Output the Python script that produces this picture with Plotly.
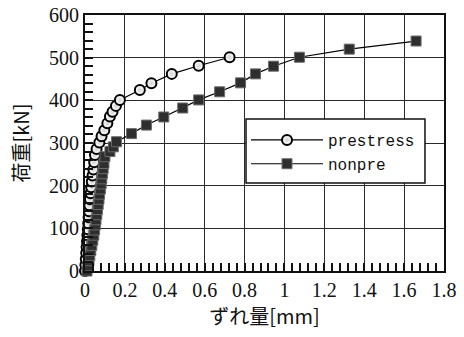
import plotly.graph_objects as go

# Load–slip measurements (slip in mm, load in kN)
prestress_slip = [0.000, 0.002, 0.004, 0.006, 0.008, 0.010, 0.012, 0.014, 0.016, 0.018,
                  0.020, 0.022, 0.025, 0.028, 0.031, 0.034, 0.038, 0.042, 0.046, 0.050,
                  0.058, 0.072, 0.083, 0.097, 0.112, 0.125, 0.138, 0.155, 0.175, 0.275,
                  0.333, 0.435, 0.570, 0.725]
prestress_load = [0, 14, 28, 42, 56, 70, 84, 98, 112, 126,
                  140, 154, 168, 182, 196, 210, 224, 238, 255, 272,
                  286, 301, 316, 330, 346, 362, 373, 387, 401, 424,
                  440, 462, 481, 501]

nonpre_slip = [0.010, 0.015, 0.020, 0.024, 0.029, 0.034, 0.039, 0.044, 0.048, 0.052,
               0.055, 0.059, 0.062, 0.066, 0.070, 0.073, 0.077, 0.081, 0.084, 0.087,
               0.091, 0.095, 0.100, 0.125, 0.142, 0.158, 0.233, 0.308, 0.395, 0.490,
               0.570, 0.675, 0.780, 0.855, 0.945, 1.075, 1.325, 1.660]
nonpre_load = [0, 12, 24, 36, 48, 60, 72, 84, 96, 108,
               120, 132, 144, 156, 168, 180, 192, 204, 216, 228,
               240, 252, 268, 280, 291, 303, 322, 342, 361, 382,
               401, 420, 441, 462, 480, 501, 520, 539]

x_ticks = [0, 0.2, 0.4, 0.6, 0.8, 1.0, 1.2, 1.4, 1.6, 1.8]
x_tick_text = ["0", "0.2", "0.4", "0.6", "0.8", "1", "1.2", "1.4", "1.6", "1.8"]
y_ticks = [0, 100, 200, 300, 400, 500, 600]

serif = "Times New Roman"
mono = "Liberation Mono"
cjk = "Noto Sans CJK JP"

fig = go.Figure()
fig.add_trace(go.Scatter(
    x=prestress_slip, y=prestress_load, name="prestress",
    mode="lines+markers", cliponaxis=False,
    line=dict(color="black", width=1.2),
    marker=dict(symbol="circle", size=10, color="white",
                gradient=dict(type="radial", color="#d4d4d4"),
                line=dict(color="black", width=2)),
))
fig.add_trace(go.Scatter(
    x=nonpre_slip, y=nonpre_load, name="nonpre",
    mode="lines+markers", cliponaxis=False,
    line=dict(color="black", width=1.2),
    marker=dict(symbol="square", size=10, color="#2e2e2e",
                line=dict(color="#6a6a6a", width=1)),
))

# legend frame
fig.add_shape(type="rect", xref="paper", yref="paper",
              x0=0.4485, x1=0.947, y0=0.344, y1=0.594,
              line=dict(color="#111111", width=1.5), fillcolor="white",
              layer="above")

fig.update_layout(
    template="none",
    width=464, height=337,
    margin=dict(l=85, r=20, t=15, b=66, autoexpand=False),
    paper_bgcolor="white", plot_bgcolor="white",
    font=dict(family=serif, size=20, color="#111111"),
    showlegend=True,
    legend=dict(
        x=0.4485, y=0.578, xanchor="left", yanchor="top",
        bgcolor="rgba(0,0,0,0)", borderwidth=0,
        font=dict(family=mono, size=16, color="#111111"),
        itemwidth=72, tracegroupgap=0,
    ),
)
fig.update_xaxes(
    range=[0, 1.8], tickvals=x_ticks, ticktext=x_tick_text, automargin=False,
    tickfont=dict(family=serif, size=20),
    showgrid=True, gridcolor="#2a2a2a", gridwidth=1,
    showline=True, linecolor="#111111", linewidth=2, mirror=True,
    ticks="inside", ticklen=8, tickcolor="#111111", tickwidth=1.5,
    minor=dict(dtick=0.04, ticks="inside", ticklen=8, tickcolor="#111111",
               tickwidth=1.5, showgrid=False),
    zeroline=False,
    title=dict(text="ずれ量[mm]", font=dict(family=cjk, size=20), standoff=6),
)
fig.update_yaxes(
    range=[0, 600], tickvals=y_ticks, automargin=False,
    tickfont=dict(family=serif, size=20),
    showgrid=True, gridcolor="#2a2a2a", gridwidth=1,
    showline=True, linecolor="#111111", linewidth=2, mirror=True,
    ticks="inside", ticklen=8, tickcolor="#111111", tickwidth=1.5,
    minor=dict(dtick=20, ticks="inside", ticklen=8, tickcolor="#111111",
               tickwidth=1.5, showgrid=False),
    zeroline=False,
    title=dict(text="荷重[kN]", font=dict(family=cjk, size=20), standoff=14),
)

fig.write_html("out.html")
